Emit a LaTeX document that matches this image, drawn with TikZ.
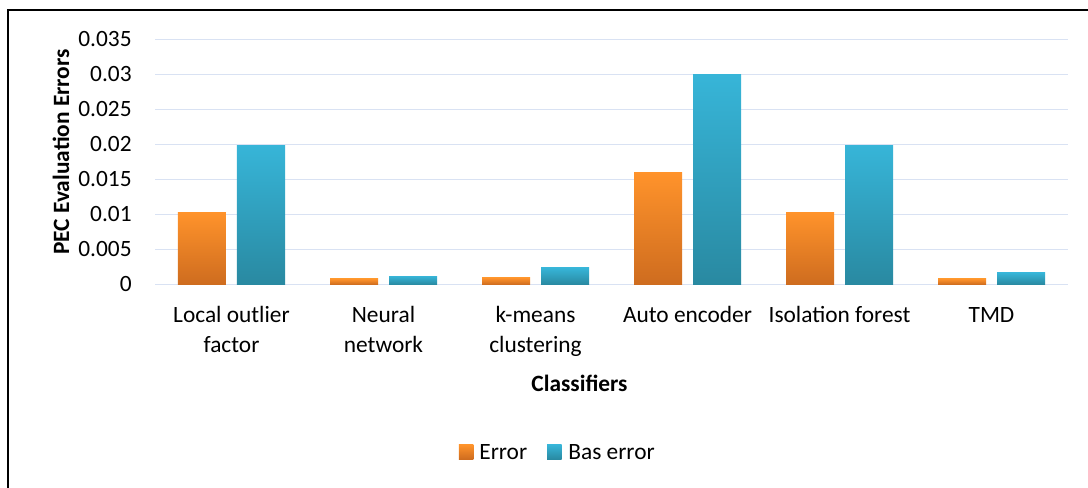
\documentclass[tikz,border=0pt]{standalone}
\usepackage{fontspec}
\setmainfont{Carlito}
\usetikzlibrary{positioning}
\definecolor{errtop}{RGB}{255,147,43}
\definecolor{errbot}{RGB}{206,108,31}
\definecolor{bastop}{RGB}{55,181,216}
\definecolor{basbot}{RGB}{41,137,161}
\definecolor{gridblue}{RGB}{217,226,243}
\tikzset{
	chartfont/.style={font=\fontsize{13.3}{16.8}\selectfont},
	gridline/.style={draw=gridblue, line width=1.1pt},
	errbar/.style={top color=errtop, bottom color=errbot},
	basbar/.style={top color=bastop, bottom color=basbot},
	ticklabel/.style={chartfont, anchor=east, inner sep=0pt},
	catlabel/.style={chartfont, align=center, anchor=north, inner sep=0pt},
	axistitle/.style={font=\fontsize{13.3}{16.8}\selectfont\bfseries, inner sep=0pt},
	legtext/.style={chartfont, anchor=west, inner sep=0pt}
}
\begin{document}
\begin{tikzpicture}
	\useasboundingbox (-3.11,-4.07) rectangle (18.65,5.69);
	%frame
	\draw[line width=1.3pt] (-2.954,-4.07) -- (-2.954,5.484) -- (18.65,5.484);
	
	%value axis and grid
	\foreach \k/\t in {0/0, 1/0.005, 2/0.01, 3/0.015, 4/0.02, 5/0.025, 6/0.03, 7/0.035}
	{
		\draw[gridline] (0,\k*0.7) -- (18.24,\k*0.7);
		\node[ticklabel] (tick\k) at (-0.47,\k*0.7) {\t};
	}
	\node[axistitle, rotate=90] (ytitle) at (-1.89,2.65) {PEC Evaluation Errors};
	
	%bars, one pair per classifier
	\foreach \lab/\e/\b [count=\i from 0] in {{Local outlier\\factor}/0.0103/0.0199, {Neural\\network}/0.0008/0.0012, {k-means\\clustering}/0.00095/0.0024, {Auto encoder}/0.016/0.03, {Isolation forest}/0.0103/0.0199, {TMD}/0.0008/0.0017}
	{
		\pgfmathsetmacro\c{1.52+3.04*\i}
		\shade[errbar] (\c-1.07,0) rectangle (\c-0.11,\e*140);
		\shade[basbar] (\c+0.11,0) rectangle (\c+1.07,\b*140);
		% strut keeps the first baselines level
		\node[catlabel] (cat\i) at (\c,-0.349) {\strut\lab};
	}
	\node[axistitle] (xtitle) at (8.48,-1.97) {Classifiers};
	
	%legend
	\shade[errbar] (6.065,-3.205) rectangle (6.355,-3.495);
	\coordinate (keyerr) at (6.355,-3.35);
	\node[legtext, right=0.115cm of keyerr] (legerr) {Error};
	\shade[basbar] (7.83,-3.205) rectangle (8.12,-3.495);
	\coordinate (keybas) at (8.12,-3.35);
	\node[legtext, right=0.13cm of keybas] (legbas) {Bas error};
\end{tikzpicture}
\end{document}
